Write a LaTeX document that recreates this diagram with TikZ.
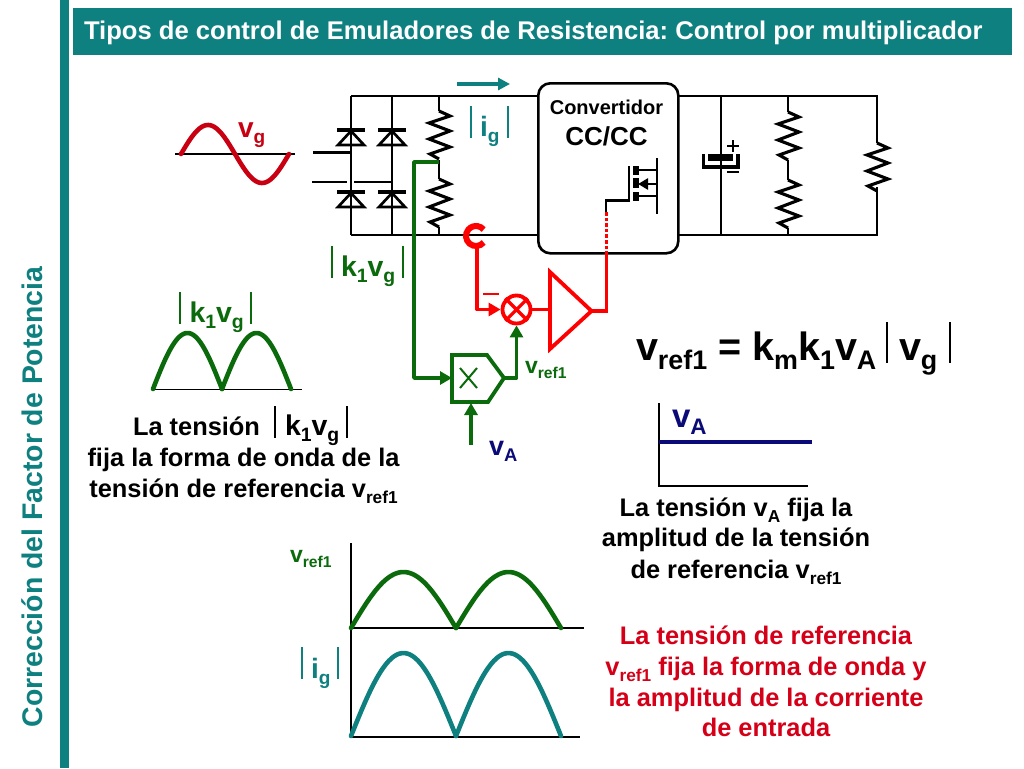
\documentclass[tikz,border=0pt]{standalone}
\usepackage{fontspec}
\setmainfont{Liberation Sans}
\usetikzlibrary{arrows.meta}
\definecolor{tealc}{HTML}{0E8080}
\definecolor{greenc}{HTML}{0B6A0B}
\definecolor{redc}{HTML}{FF0000}
\definecolor{redv}{HTML}{C80012}
\definecolor{redt}{HTML}{D50018}
\definecolor{navyc}{HTML}{0A0A78}
\newcommand\sbs[1]{\raisebox{-.24em}{\scalebox{.68}{#1}}}
\newcommand\fsz[1]{\fontsize{#1}{#1}\selectfont\bfseries\frenchspacing}
\newcommand\zigres[2]{% x, top y
  \draw[wire,line width=3.1pt,line join=miter] (#1,#2) -- ++(11,5) -- ++(-21,7) -- ++(21,8) -- ++(-21,8) -- ++(21,8) -- ++(-20,7) -- ++(9,5);}
\newcommand\diodeup[2]{% x, bar y
  \draw[wire,line width=4.6pt] (#1-14,#2) -- (#1+14,#2);
  \draw[wire,line width=2.7pt,line join=miter] (#1,#2+1) -- (#1+13,#2+15) -- (#1-13,#2+15) -- cycle;}
\tikzset{
  wire/.style={draw=black,line width=2.7pt},
  axisl/.style={draw=black,line width=1.8pt},
  barl/.style={line width=1.5pt},
  lbl/.style={anchor=base west,inner sep=0pt,outer sep=0pt},
  ctr/.style={anchor=base,inner sep=0pt,outer sep=0pt,align=center},
  grw/.style={draw=greenc,line width=3.8pt,line join=round},
  rdw/.style={draw=redc,line width=3.8pt,line join=round},
  tip/.style={-{Triangle[length=12pt,width=13pt]}},
  wave/.style={line width=4.6pt,line cap=round,line join=round}
}
\begin{document}
\begin{tikzpicture}[x=1pt,y=-1pt]
\useasboundingbox (0,0) rectangle (1024,768);
\fill[white] (0,0) rectangle (1024,768);
% frame
\fill[tealc] (60,0) rectangle (68.5,768);
\node[fill=tealc,minimum width=939pt,minimum height=47pt,inner sep=0pt,anchor=north west] (titlebar) at (73,8) {};
\node[lbl,text=white] (title) at (84,40) {\fsz{25.6}Tipos de control de Emuladores de Resistencia: Control por multiplicador};
\node[anchor=base,rotate=90,inner sep=0pt,text=tealc] (side) at (42,497) {\fsz{28.4}Corrección del Factor de Potencia};
% input sine
\draw[axisl,line width=1.2pt] (175,154) -- (295,154);
\draw[draw=redv,wave] plot[domain=0:360,samples=60,smooth] ({181+\x/360*108},{154-29*sin(\x)});
\node[lbl,text=redv] (vg) at (238,137) {\fsz{28}v\sbs{g}};
% converter rails
\coordinate (tl) at (351,96); \coordinate (bl) at (351,235);
\coordinate (tr) at (877,96); \coordinate (br) at (877,235);
\draw[wire,line join=miter] (tl) -- (537,96);
\draw[wire] (bl) -- (537,235);
\draw[wire,line join=miter] (677,96) -- (tr) -- (877,143);
\draw[wire,line join=miter] (677,235) -- (br) -- (877,187);
% bridge
\draw[wire] (tl) -- (bl);
\draw[wire] (392,96) -- (392,235);
\diodeup{351}{130}\diodeup{392}{130}
\diodeup{351}{192}\diodeup{392}{192}
\draw[wire] (313,152.5) -- (351,152.5);
\draw[wire] (312,182) -- (347,182);
\draw[wire] (354,182) -- (392,182);
% divider
\draw[wire] (439,96) -- (439,111);
\zigres{439}{111}
\draw[wire] (439,160) -- (439,179);
\zigres{439}{179}
\draw[wire] (439,227) -- (439,235);
% output
\draw[wire] (721,96) -- (721,235);
\zigres{788}{112}
\draw[wire] (788,96) -- (788,112);
\draw[wire] (788,160) -- (788,180);
\zigres{788}{180}
\draw[wire] (788,228) -- (788,235);
\zigres{877}{143}
% capacitor
\fill[white] (700,144) rectangle (742,172);
\draw[wire] (721,144) -- (721,172);
\fill[black] (708,154) rectangle (733,161);
\draw[wire,line width=3.5pt,line join=miter] (703.5,154) -- (703.5,167) -- (738,167) -- (738,154);
\draw[black,line width=1.3pt] (727,146) -- (739,146) (733,140) -- (733,152);
\draw[black,line width=1.3pt] (727,172) -- (739,172);
% converter block
\node[draw=black,line width=2.6pt,fill=white,rounded corners=12pt,minimum width=140pt,minimum height=170pt,inner sep=0pt,anchor=north west] (conv) at (537,82) {};
\node[ctr] (convt) at (606.5,114) {\fsz{20}Convertidor};
\node[ctr] (cc) at (606.5,145) {\fsz{26}CC/CC};
% mosfet
\draw[wire,line join=miter] (606,212) -- (606,200.7) -- (629,200.7) -- (629,166);
\draw[black,line width=6pt] (636,166) -- (636,175) (636,178) -- (636,188) (636,192) -- (636,201);
\draw[wire,line join=miter] (636,170) -- (657,170) -- (657,158);
\draw[wire,line join=miter] (636,196) -- (657,196) -- (657,214);
\draw[wire] (657,170) -- (657,196);
\draw[wire,-{Triangle[length=10pt,width=11pt]}] (657,184) -- (638,184);
% control loop
\draw[draw=redc,line width=3.6pt,dotted] (606.5,212) -- (606.5,252);
\node[draw=redc,line width=3.8pt,circle,minimum size=28pt,inner sep=0pt,fill=white] (summer) at (516.5,309.5) {};
\draw[draw=redc,line width=3.2pt] (summer.north west) -- (summer.south east) (summer.north east) -- (summer.south west);
\coordinate (ampin) at (550,309.5);
\draw[rdw,line join=miter,fill=white] (550,272) -- (550,349) -- (591.5,311) -- cycle;
\coordinate (ampout) at (591.5,311);
\draw[rdw,line join=miter] (ampout) -- (606.5,311) -- (606.5,252);
\draw[rdw] (summer) -- (ampin);
\coordinate (probe) at (476,236);
\draw[draw=redc,line width=6pt] (probe) ++(40:10) arc (40:320:10);
\coordinate (probeb) at (477,247);
\draw[rdw,tip] (probeb) -- (477,309.5) -- (summer.west);
\draw[draw=redc,line width=2.4pt] (483,294) -- (499,294);
% multiplier
\coordinate (mA) at (452,355);
\coordinate (mout) at (504,378);
\draw[grw,line join=miter,fill=white] (mA) -- (487,355) -- (mout) -- (488,402) -- (452,402) -- cycle;
\draw[draw=greenc,line width=2pt] (460,368) -- (477,388) (477,368) -- (460,388);
\coordinate (tap) at (439,162);
\draw[grw,tip] (tap) -- (414,162) -- (414,378) -- (452,378);
\draw[grw,tip] (mout) -- (516.5,378) -- (summer.south);
\coordinate (vain) at (471,445);
\draw[grw,tip] (vain) -- (471,403);
\node[lbl,text=greenc] (vref) at (525,373) {\fsz{23}v\sbs{ref1}};
\node[lbl,text=navyc] (va) at (489,455) {\fsz{27}v\sbs{A}};
% ig arrow and label
\coordinate (ia) at (457,84); \coordinate (ib) at (510,84);
\draw[draw=tealc,line width=3.2pt,-{Triangle[length=12pt,width=12pt]}] (ia) -- (ib);
\draw[draw=tealc,barl,line width=2pt] (471,106) -- (471,138) (508,106) -- (508,138);
\node[lbl,text=tealc] (ig) at (480,136) {\fsz{28}i\sbs{g}};
% k1vg near wire
\draw[draw=greenc,barl,line width=2pt] (332,246) -- (332,278) (403,246) -- (403,278);
\node[lbl,text=greenc] (k1) at (341,276) {\fsz{28.5}k\sbs{1}v\sbs{g}};
% waveform k1vg
\draw[draw=greenc,barl,line width=2pt] (180,292) -- (180,324) (251,292) -- (251,324);
\node[lbl,text=greenc] (k2) at (189.5,322) {\fsz{28.5}k\sbs{1}v\sbs{g}};
\draw[axisl] (153,389.5) -- (302,389.5);
\draw[draw=greenc,wave] plot[domain=0:180,samples=40,smooth] ({153+\x/180*69},{389-56*sin(\x)});
\draw[draw=greenc,wave] plot[domain=0:180,samples=40,smooth] ({222+\x/180*69},{389-56*sin(\x)});
% left text
\node[lbl] (t1) at (133,435) {\fsz{25.4}La tensión};
\draw[barl,line width=2pt] (275,406) -- (275,438) (347,406) -- (347,438);
\node[lbl] (t1b) at (285,435) {\fsz{28.5}k\sbs{1}v\sbs{g}};
\node[ctr] (t2) at (243.5,466.5) {\fsz{25.4}fija la forma de onda de la};
\node[ctr] (t3) at (243.5,497) {\fsz{25.4}tensión de referencia v\sbs{ref1}};
% equation
\node[lbl] (eq) at (636,360) {\fsz{39.5}v\sbs{ref1} = k\sbs{m}k\sbs{1}v\sbs{A}};
\draw[barl,line width=2.2pt] (887,322) -- (887,363) (950,322) -- (950,363);
\node[lbl] (eq2) at (899,360) {\fsz{39.5}v\sbs{g}};
% va chart
\draw[axisl] (659,403) -- (659,486) -- (808,486);
\draw[draw=navyc,line width=3.6pt] (659,442) -- (812,442);
\node[lbl,text=navyc] (va2) at (672,427) {\fsz{33}v\sbs{A}};
\node[ctr] (t4) at (736,516) {\fsz{25.4}La tensión v\sbs{A} fija la};
\node[ctr] (t5) at (736,546) {\fsz{25.4}amplitud de la tensión};
\node[ctr] (t6) at (736,578) {\fsz{25.4}de referencia v\sbs{ref1}};
% bottom charts
\draw[axisl] (351,543) -- (351,737) -- (580,737);
\draw[axisl] (351,628) -- (584,628);
\draw[draw=greenc,wave] plot[domain=0:180,samples=40,smooth] ({351+\x/180*105},{628-56*sin(\x)});
\draw[draw=greenc,wave] plot[domain=0:180,samples=40,smooth] ({456+\x/180*105},{628-56*sin(\x)});
\draw[draw=tealc,wave] plot[domain=0:180,samples=40,smooth] ({351+\x/180*105},{736-83*sin(\x)});
\draw[draw=tealc,wave] plot[domain=0:180,samples=40,smooth] ({456+\x/180*105},{736-83*sin(\x)});
\node[lbl,text=greenc] (vr3) at (290,562) {\fsz{23}v\sbs{ref1}};
\draw[draw=tealc,barl,line width=2pt] (302,647) -- (302,679) (338,647) -- (338,679);
\node[lbl,text=tealc] (ig2) at (311,678) {\fsz{28}i\sbs{g}};
% red text
\node[ctr,text=redt] (r1) at (766,644) {\fsz{25.4}La tensión de referencia};
\node[ctr,text=redt] (r2) at (766,675) {\fsz{25.4}v\sbs{ref1} fija la forma de onda y};
\node[ctr,text=redt] (r3) at (766,706) {\fsz{25.4}la amplitud de la corriente};
\node[ctr,text=redt] (r4) at (766,736) {\fsz{25.4}de entrada};
\end{tikzpicture}
\end{document}
